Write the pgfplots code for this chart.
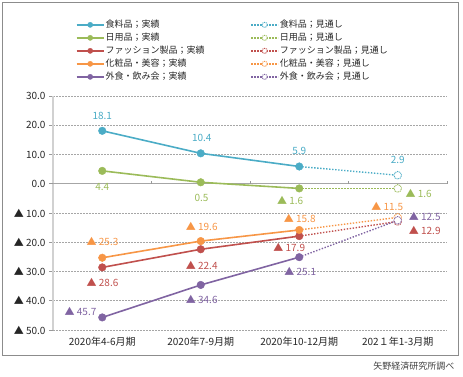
\documentclass[border=0pt]{standalone}
\usepackage{pgfplots}
\pgfplotsset{compat=1.18}
\usepackage{fontspec}
\setmainfont{Noto Sans CJK JP}
\definecolor{cBlue}{HTML}{4BACC6}
\definecolor{cGreen}{HTML}{9BBB59}
\definecolor{cRed}{HTML}{C0504D}
\definecolor{cOrange}{HTML}{F79646}
\definecolor{cPurple}{HTML}{8064A2}
\pgfplotsset{
 act/.style={color=#1, line width=1.6pt, mark=*, mark size=3.8pt, mark options={solid, draw=#1, fill=#1, line width=0.4pt}},
 fc/.style={color=#1, line width=1.4pt, dash pattern=on 1.4pt off 1.6pt, mark=*, mark size=3.8pt, mark options={dash pattern=on 1pt off 0.8pt, draw=#1, fill=white, line width=0.9pt}},
 lbl/.style={forget plot, draw=none, mark=none, nodes near coords, point meta=explicit symbolic,
   visualization depends on={\thisrow{dx}\as\dx}, visualization depends on={\thisrow{dy}\as\dy},
   every node near coord/.append style={anchor=center, xshift=\dx pt, yshift=\dy pt, font=\fontsize{10}{10}\selectfont, text=#1, inner sep=0pt}}
}
\begin{document}
\begin{tikzpicture}
\path (0pt,0pt) rectangle (463pt,377pt);
\draw[black!45, line width=0.8pt] (2pt,22pt) rectangle (458pt,375pt);
\begin{axis}[
 at={(53pt,47pt)}, anchor=south west, scale only axis, width=394pt, height=234pt,
 xmin=-0.5, xmax=3.5, ymin=-50, ymax=30,
 xtick={0,1,2,3}, xticklabels={2020年4-6月期,2020年7-9月期,2020年10-12月期,202１年1-3月期},
 ytick={-50,-40,...,30},
 yticklabels={▲ 50.0,▲ 40.0,▲ 30.0,▲ 20.0,▲ 10.0,0.0,10.0,20.0,30.0},
 axis lines*=left,
 x axis line style={draw=none},
 y axis line style={draw=black!18, line width=2pt},
 major x tick style={draw=none},
 ytick style={draw=black!40, line width=0.6pt}, tick align=outside, major tick length=4pt,
 ymajorgrids, major grid style={draw=black!35, line width=0.5pt, dash pattern=on 1.5pt off 1.5pt},
 extra y ticks={0}, extra y tick labels={},
 extra y tick style={major grid style={solid, draw=black!35, line width=0.8pt}},
 x tick label style={font=\fontsize{10}{12}\selectfont, text=black!85},
 y tick label style={font=\fontsize{10}{12}\selectfont, text=black!85},
 clip=false,
 legend cell align=left,
 legend style={at={(0.05,1.337)}, anchor=north west, draw=none, fill=none,
   font=\fontsize{9}{9}\selectfont, text=black!85, legend columns=5, transpose legend,
   row sep=2pt, nodes={inner sep=1pt, text height=7.5pt, text depth=1.5pt},
   /tikz/every even column/.append style={column sep=45pt}},
 legend image code/.code={\draw[mark repeat=2,mark phase=2,#1,mark size=2.6pt] plot coordinates {(0pt,0pt)(13.5pt,0pt)(27pt,0pt)};},
]
\addlegendimage{act=cBlue}\addlegendentry{食料品；実績}
\addlegendimage{act=cGreen}\addlegendentry{日用品；実績}
\addlegendimage{act=cRed}\addlegendentry{ファッション製品；実績}
\addlegendimage{act=cOrange}\addlegendentry{化粧品・美容；実績}
\addlegendimage{act=cPurple}\addlegendentry{外食・飲み会；実績}
\addlegendimage{fc=cBlue}\addlegendentry{食料品；見通し}
\addlegendimage{fc=cGreen}\addlegendentry{日用品；見通し}
\addlegendimage{fc=cRed}\addlegendentry{ファッション製品；見通し}
\addlegendimage{fc=cOrange}\addlegendentry{化粧品・美容；見通し}
\addlegendimage{fc=cPurple}\addlegendentry{外食・飲み会；見通し}

\draw[black!40, line width=0.6pt] (axis cs:0.5,0) -- ++(0pt,3pt);
\draw[black!40, line width=0.6pt] (axis cs:1.5,0) -- ++(0pt,3pt);
\draw[black!40, line width=0.6pt] (axis cs:2.5,0) -- ++(0pt,3pt);
\draw[black!40, line width=0.6pt] (axis cs:3.5,0) -- ++(0pt,3pt);

% forecasts
\addplot[fc=cBlue, forget plot, mark indices={2}] coordinates {(2,5.9)(3,2.9)};
\addplot[fc=cGreen, forget plot, mark indices={2}] coordinates {(2,-1.6)(3,-1.6)};
\addplot[fc=cRed, forget plot, mark indices={2}] coordinates {(2,-17.9)(3,-12.9)};
\addplot[fc=cOrange, forget plot, mark indices={2}] coordinates {(2,-15.8)(3,-11.5)};
\addplot[fc=cPurple, forget plot, mark indices={2}] coordinates {(2,-25.1)(3,-12.5)};
% actuals
\addplot[act=cBlue, forget plot] coordinates {(0,18.1)(1,10.4)(2,5.9)};
\addplot[act=cGreen, forget plot] coordinates {(0,4.4)(1,0.5)(2,-1.6)};
\addplot[act=cRed, forget plot] coordinates {(0,-28.6)(1,-22.4)(2,-17.9)};
\addplot[act=cOrange, forget plot] coordinates {(0,-25.3)(1,-19.6)(2,-15.8)};
\addplot[act=cPurple, forget plot] coordinates {(0,-45.7)(1,-34.6)(2,-25.1)};
% labels
\addplot[lbl=cBlue] table[col sep=comma, x=x, y=y, meta=label] {
x,y,dx,dy,label
0,18.1,0,15,18.1
1,10.4,1,15.5,10.4
2,5.9,0,15.7,5.9
3,2.9,0,15.5,2.9
};
\addplot[lbl=cGreen] table[col sep=comma, x=x, y=y, meta=label] {
x,y,dx,dy,label
0,4.4,0,-16,4.4
1,0.5,0.7,-15.5,0.5
2,-1.6,-9,-12.3,▲ 1.6
3,-1.6,21,-5.3,▲ 1.6
};
\addplot[lbl=cOrange] table[col sep=comma, x=x, y=y, meta=label] {
x,y,dx,dy,label
0,-25.3,0.3,16,▲ 25.3
1,-19.6,1,14.4,▲ 19.6
2,-15.8,0.5,11.3,▲ 15.8
3,-11.5,-10.5,10.7,▲ 11.5
};
\addplot[lbl=cRed] table[col sep=comma, x=x, y=y, meta=label] {
x,y,dx,dy,label
0,-28.6,0.3,-15,▲ 28.6
1,-22.4,1,-16.4,▲ 22.4
2,-17.9,-10,-11.6,▲ 17.9
3,-12.9,27,-9.2,▲ 12.9
};
\addplot[lbl=cPurple] table[col sep=comma, x=x, y=y, meta=label] {
x,y,dx,dy,label
0,-45.7,-21.7,6,▲ 45.7
1,-34.6,1,-14.6,▲ 34.6
2,-25.1,1,-14.5,▲ 25.1
3,-12.5,27,3.6,▲ 12.5
};
\end{axis}
\node[anchor=east, font=\fontsize{9}{9}\selectfont, text=black!75] at (458pt,11pt) {矢野経済研究所調べ};
\end{tikzpicture}
\end{document}
